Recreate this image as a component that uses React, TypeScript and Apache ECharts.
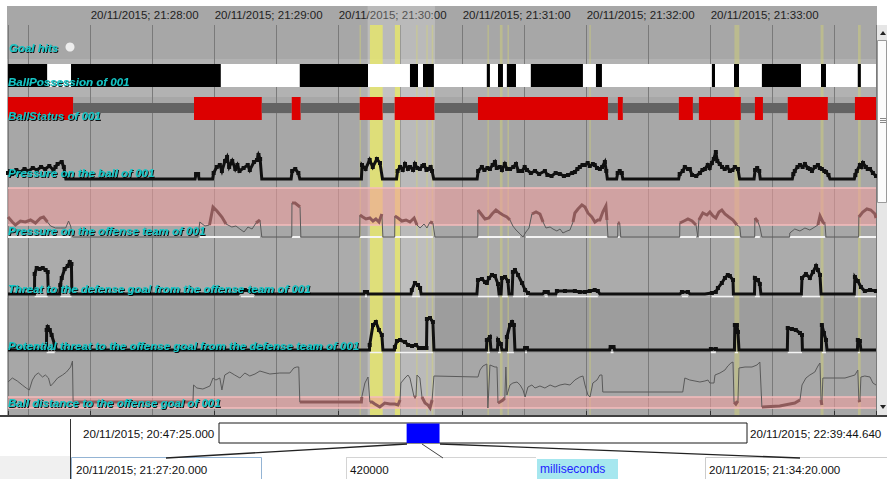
import React, { useEffect, useRef } from "react";
import * as echarts from "echarts";

// ---------- time frame (seconds after 20/11/2015 21:27:00) ----------
const AXIS_MIN = 20; // 21:27:20
const AXIS_MAX = 440; // 21:34:20
const tickSeconds = [60, 120, 180, 240, 300, 360];
const tickLabels = [
  "20/11/2015; 21:28:00",
  "20/11/2015; 21:29:00",
  "20/11/2015; 21:30:00",
  "20/11/2015; 21:31:00",
  "20/11/2015; 21:32:00",
  "20/11/2015; 21:33:00",
];

const rowLabels = [
  "Goal hits",
  "BallPossession of 001",
  "BallStatus of 001",
  "Pressure on the ball of 001",
  "Pressure on the offense team of 001",
  "Threat to the defense goal from the offense team of 001",
  "Potential threat to the offense goal from the defense team of 001",
  "Ball distance to the offense goal of 001",
];

// overview (seconds of day)
const overviewStartSec = 74845; // 20:47:25.000
const overviewEndSec = 81584.64; // 22:39:44.640
const windowSec = [77240, 77660]; // 21:27:20 -> 21:34:20
const overviewStartText = "20/11/2015; 20:47:25.000";
const overviewEndText = "20/11/2015; 22:39:44.640";
const windowStartText = "20/11/2015; 21:27:20.000";
const windowLengthText = "420000";
const windowUnitText = "milliseconds";
const windowEndText = "20/11/2015; 21:34:20.000";

// ---------- events ----------
const goalHits = [50];

const lightMarks = [[194, 226.6]];
const strongMarks = [
  [195.1, 201.3],
  [207.2, 209.7],
];
const faintMarks = [
  [190.1, 190.8],
  [217.5, 218.2],
  [222.4, 223.1],
  [225.0, 225.8],
  [252.0, 252.7],
  [258.0, 259.3],
  [261.7, 262.4],
  [301.3, 302.0],
  [371.5, 373.9],
  [413.2, 414.6],
  [431.3, 432.6],
];

// [start, end, 1 = 001 in possession (black), 0 = other (white)]
const possession = [
  [20, 39, 1], [39, 50.5, 0], [50.5, 123, 1], [123, 161.2, 0], [161.2, 194.2, 1],
  [194.2, 214.5, 0], [214.5, 218.4, 1], [218.4, 220.8, 0], [220.8, 226.1, 1],
  [226.1, 251.7, 0], [251.7, 253.2, 1], [253.2, 257.1, 0], [257.1, 259.5, 1],
  [259.5, 261.4, 0], [261.4, 265.8, 1], [265.8, 273, 0], [273, 298.2, 1],
  [298.2, 304.5, 0], [304.5, 307.4, 1], [307.4, 360.6, 0], [360.6, 362.1, 1],
  [362.1, 371.3, 0], [371.3, 373.7, 1], [373.7, 384.8, 0], [384.8, 403.7, 1],
  [403.7, 413.4, 0], [413.4, 415.8, 1], [415.8, 431.2, 0], [431.2, 432.7, 1],
  [432.7, 440, 0],
];

// [start, end, 1 = in play (red), 0 = stopped (grey)]
const ballStatus = [
  [20, 51.5, 1], [51.5, 110, 0], [110, 142.8, 1], [142.8, 157.3, 0], [157.3, 161.6, 1],
  [161.6, 190.2, 0], [190.2, 201.3, 1], [201.3, 207.1, 0], [207.1, 226.4, 1],
  [226.4, 247.4, 0], [247.4, 310.3, 1], [310.3, 315.1, 0], [315.1, 317.5, 1],
  [317.5, 344.6, 0], [344.6, 351.4, 1], [351.4, 354.3, 0], [354.3, 374.6, 1],
  [374.6, 381.4, 0], [381.4, 385.3, 1], [385.3, 397.3, 0], [397.3, 416.7, 1],
  [416.7, 429.8, 0], [429.8, 440, 1],
];

// ---------- measures [second, value] ----------
const pressureBall = [
  [20, 6], [21, 8], [22, 5], [24, 9], [26, 7], [28, 10], [30, 8], [32, 11], [34, 9], [36, 12],
  [38, 10], [40, 13], [42, 9], [43, 12], [44, 15], [46, 17], [47, 12], [48, 0],
  [110.5, 0], [111, 5], [112, 5], [112.5, 0],
  [119, 0], [119.5, 6], [121, 12], [122.5, 14], [123.5, 8], [125, 18], [126, 22], [127, 12],
  [128.5, 18], [130, 10], [131, 14], [132, 8], [134, 11], [136, 14], [137, 9], [139, 17],
  [140.5, 19], [141.2, 24], [142, 20], [142.8, 0],
  [157, 0], [157.5, 8], [159, 10], [160.5, 6], [161.2, 0],
  [191, 0], [191.3, 14], [193, 10], [195, 19], [196.5, 12], [198.5, 20], [200, 16], [201.2, 0],
  [208, 0], [208.5, 8], [209.7, 12], [211, 9], [212.1, 15], [213.5, 10], [214.5, 12], [216, 9],
  [216.9, 15], [218, 11], [219.3, 10], [220.5, 13], [221.3, 14], [222.5, 9], [223.2, 10],
  [224.5, 12], [225.2, 8], [226, 0],
  [247, 0], [247.5, 8], [249.3, 12], [250.5, 9], [252, 11], [253.2, 10], [254.5, 14], [255.6, 17],
  [256.5, 11], [258, 12], [259, 9], [260.4, 15], [261.5, 10], [262.9, 10], [264.5, 12],
  [265.8, 15], [267, 8], [268.7, 8], [270, 12], [271.1, 9], [273, 6], [275, 8], [277, 5],
  [279.8, 8], [281, 4], [283, 3], [285, 6], [287, 5], [289, 3], [291, 4], [293, 6], [294.3, 7],
  [295.5, 10], [296.7, 12], [298, 14], [299.1, 14], [300.5, 16], [301.5, 13], [303, 15],
  [303.9, 14], [305, 11], [306.4, 10], [307.5, 12], [308.8, 17], [309.5, 8], [310, 0],
  [314.5, 0], [315, 6], [316, 8], [317, 6], [317.5, 0],
  [344.5, 0], [345, 5], [346.5, 8], [347.5, 12], [349, 10], [349.9, 10], [351, 4], [353, 3],
  [354.8, 6], [356, 9], [357.2, 10], [358.6, 14], [359.5, 11], [360.6, 16], [361.5, 20],
  [362.5, 27], [363.2, 18], [364.4, 15], [365.5, 12], [366.8, 10], [368, 12], [369.3, 8],
  [370.5, 9], [371.7, 12], [373.2, 10], [374, 0],
  [381, 0], [381.5, 9], [382.5, 11], [383.5, 8], [384, 0],
  [399.5, 0], [400, 5], [400.7, 8], [402, 12], [403.2, 14], [404.5, 12], [405.6, 15], [407, 11],
  [408, 10], [409, 8], [410.4, 12], [411.9, 14], [412.8, 11], [413.8, 10], [415, 8], [415.8, 7],
  [417, 4], [417.7, 0],
  [429.5, 0], [430, 4], [430.7, 8], [432.2, 14], [433, 12], [433.7, 16], [435.1, 12], [436, 10],
  [437.1, 10], [438.5, 6], [440, 3],
];

const pressureOffense = [
  [20, 20], [22.1, 15], [23.6, 12], [26, 16], [28.4, 15], [30.9, 17], [33.3, 14], [35.7, 19],
  [37.2, 20], [39.1, 15], [40.6, 11], [43, 9], [45.4, 9], [47.9, 9], [49.3, 16], [50.3, 11],
  [51.3, 0],
  [111.9, 0], [112.8, 15], [115.3, 11], [117.5, 12], [119.2, 30], [121.1, 26], [123.5, 20],
  [125.5, 13], [128.3, 10], [130.3, 11], [132.2, 8], [134.2, 5], [136.1, 10], [138.1, 8],
  [140, 14], [141.9, 17], [142.8, 0],
  [157.3, 0], [157.4, 34], [158.9, 34], [161.3, 30], [161.7, 0],
  [190.2, 0], [190.3, 22], [191.7, 20], [193.2, 18], [195.1, 19], [196.6, 16], [198, 18],
  [199.5, 15], [200.9, 23], [201.4, 0],
  [207.1, 0], [207.2, 21], [208.7, 19], [210.6, 16], [212.6, 17], [214.5, 15], [216.5, 19],
  [217.9, 12], [219.4, 9], [221.3, 13], [222.7, 9], [224.2, 15], [225.6, 14], [226.6, 0],
  [247.3, 0], [247.4, 27], [249.3, 22], [250.8, 18], [252.7, 19], [254.2, 23], [256.1, 27],
  [258, 24], [259.5, 22], [261.4, 20], [262.9, 17], [264.3, 11], [265.8, 7], [267.8, 3],
  [269.2, 0], [270.6, 5], [272.1, 9], [273.5, 23], [275.5, 25], [277.4, 23], [278.9, 15],
  [280.3, 9], [282.3, 10], [283.7, 8], [285.6, 6], [287.1, 8], [288.5, 4], [290.5, 6],
  [291.9, 7], [293.4, 15], [294.3, 24], [295.8, 28], [297.7, 32], [299.2, 30], [300.6, 24],
  [302.5, 20], [304, 15], [305.4, 17], [306.4, 17], [307.8, 25], [309.3, 31], [309.8, 17],
  [310.3, 0],
  [315, 0], [315.1, 14], [316, 14], [316.5, 0],
  [345, 0], [345.1, 14], [347.1, 16], [349, 18], [351, 16], [352.9, 12], [353.8, 0], [354.3, 17],
  [356.2, 24], [358.2, 22], [359.6, 25], [361.1, 21], [362.5, 19], [364, 25], [365.4, 27],
  [366.9, 23], [368.8, 20], [370.8, 17], [372.7, 12], [374.1, 10], [374.6, 0],
  [381.3, 0], [381.4, 19], [382.9, 15], [383.8, 10], [384.8, 0],
  [398.2, 0], [398.3, 4], [400.7, 8], [403.2, 6], [405.6, 9], [408, 7], [410.4, 10], [411.9, 12],
  [412.9, 21], [414.3, 15], [415.3, 13], [415.8, 0],
  [431.6, 0], [431.7, 20], [433.6, 25], [435.6, 28], [437.5, 27], [439.5, 23], [440, 19],
];
const offenseBand = [12, 49];

const threatDefense = [
  [20, 0], [32.8, 0], [32.9, 20], [33.9, 26], [35.3, 25], [36.8, 26], [38.2, 24], [39.2, 22],
  [39.5, 0], [45, 0], [45.3, 9], [46, 16], [47.4, 25], [48.9, 28], [49.9, 32], [50.7, 30],
  [50.9, 0],
  [131.3, 0], [132.7, 3], [134.6, 4], [137, 3], [139, 2], [139.9, 0],
  [192.2, 0], [192.7, 2], [193.7, 2], [194.2, 0],
  [215, 0], [215.4, 4], [216.9, 11], [218.4, 9], [219.4, 6], [219.9, 0],
  [246.9, 0], [247.4, 14], [249.3, 15], [250.8, 12], [251.7, 11], [252.7, 16], [254.2, 19],
  [255.6, 18], [257.1, 10], [257.6, 0], [258.6, 0], [259, 16], [260.5, 17], [261.9, 13],
  [262.4, 0], [263.9, 0], [264.3, 22], [265.3, 24], [266.8, 19], [268.7, 11], [270.2, 4],
  [271.6, 1], [272.6, 0],
  [278.7, 0], [279.7, 2], [281.2, 2], [281.7, 0],
  [285.1, 0], [285.6, 3], [289.5, 3], [294.3, 3], [296.7, 2], [299.1, 2], [301.5, 3], [303.9, 4],
  [305.4, 3], [306.4, 0],
  [345.1, 0], [346.1, 2], [349, 2], [350, 0],
  [357.2, 0], [360.6, 1], [362.5, 2], [363.5, 6], [365.4, 11], [366.9, 16], [368.3, 19],
  [369.3, 18], [370.8, 14], [371, 0],
  [381.2, 0], [381.4, 16], [382.9, 14], [383.8, 10], [384.3, 0],
  [403.9, 0], [404.2, 16], [406.1, 20], [408, 16], [409.5, 22], [411, 28], [411.9, 24],
  [412.9, 19], [413.4, 0],
  [429.5, 0], [429.8, 17], [431.2, 13], [432.7, 7], [434.6, 3], [437.1, 4], [440, 3],
];

const potentialThreat = [
  [20, 0], [38.6, 0], [38.7, 20], [39.2, 23], [40.2, 20], [41.1, 15], [42.6, 5], [43.6, 0],
  [194.9, 0], [195, 5], [196.6, 25], [198, 28], [199.5, 20], [200.9, 15], [201.4, 0],
  [207, 0], [207.2, 3], [208.2, 9], [209.7, 10], [212.1, 8], [213.6, 5], [215.5, 4], [217.4, 5],
  [218.9, 2], [220.8, 2], [222.5, 2], [222.7, 31], [224.2, 32], [225.6, 28], [226.1, 0],
  [251.5, 0], [251.7, 10], [253.2, 13], [253.7, 0], [256.8, 0], [257.1, 10], [258.5, 6],
  [259, 0], [261.2, 0], [261.4, 13], [262.9, 25], [263.9, 28], [264.8, 25], [265.3, 0],
  [269.7, 0], [270.2, 2], [271.1, 2], [271.6, 0],
  [311.1, 0], [311.6, 3], [313, 3], [313.5, 0],
  [359.6, 0], [360.1, 1], [362.5, 1], [363, 0],
  [371.5, 0], [371.7, 25], [372.7, 25], [373.2, 18], [373.7, 0],
  [397.1, 0], [397.3, 22], [399.3, 21], [401.2, 20], [403.2, 17], [404.2, 15], [404.4, 0],
  [413.6, 0], [413.8, 25], [414.8, 17], [415.8, 10], [416.3, 0],
  [431, 0], [431.2, 10], [432.2, 9], [432.7, 0], [440, 0],
];

const ballDistance = [
  [20, 26], [22.1, 30], [24.5, 27], [26.9, 23], [28.8, 20], [30.3, 18], [31.8, 28], [33.3, 33],
  [34.7, 35], [36.7, 31], [38.1, 33], [39.6, 30], [40.6, 22], [42, 25], [44, 30], [46.4, 33],
  [48.3, 36], [50.3, 41], [51.2, 47], [51.5, 6], [109.5, 6], [109.8, 23], [111.4, 20],
  [114.3, 19], [117.7, 22], [119.2, 30], [120.6, 28], [122.5, 30], [123.5, 18], [124.9, 33],
  [127.3, 36], [129.7, 33], [132.2, 30], [134.6, 35], [137, 32], [139.5, 34], [141.9, 37],
  [146.7, 34], [151.5, 35], [156.4, 35], [158.3, 40], [159.7, 41], [160.7, 41], [161.2, 6],
  [191, 6], [191.2, 11], [192.7, 25], [194.2, 31], [195.1, 6], [196.1, 6], [197.5, 4],
  [199.9, 1], [202.3, 5], [204.8, 4], [207.2, 4], [208.7, 3], [209.7, 8], [210.1, 25],
  [212.1, 30], [213.5, 33], [214.5, 30], [216.5, 11], [217.4, 11], [217.9, 33], [219.3, 30],
  [220.3, 11], [221.8, 5], [223.2, 3], [224.2, 0], [225.2, 8], [226.1, 32], [247.4, 31],
  [248.4, 38], [249.8, 42], [251.7, 44], [252.2, 0], [253.2, 43], [255.6, 41], [256.6, 41],
  [257.1, 5], [258, 6], [259.5, 8], [260.4, 10], [260.9, 41], [261.4, 13], [262.9, 23],
  [264.3, 25], [266.3, 26], [267.8, 23], [269.2, 18], [270.2, 11], [271.6, 21], [273.5, 23],
  [275, 20], [277.4, 22], [279.8, 20], [282.3, 23], [284.7, 21], [287.1, 23], [289.5, 24],
  [291.9, 23], [294.3, 28], [296.7, 31], [298.2, 32], [299.2, 23], [300.6, 13], [301.6, 11],
  [303, 25], [305, 28], [306.4, 33], [307.4, 33], [307.8, 16], [346.5, 16], [347.5, 30],
  [349.9, 28], [352.4, 27], [354.8, 26], [357.2, 27], [358.7, 28], [359.6, 25], [361.6, 25],
  [362.1, 33], [364.5, 35], [366.9, 38], [368.3, 42], [369.8, 45], [370.8, 46], [371.3, 6],
  [372.2, 4], [373.2, 7], [373.7, 40], [376.6, 41], [380, 41], [382.4, 43], [383.8, 46],
  [384.8, 1], [393.4, 2], [398.3, 4], [400.7, 5], [403.2, 8], [404.2, 23], [406.1, 30],
  [408, 33], [410.4, 36], [411.9, 42], [412.9, 45], [413.4, 8], [413.8, 3], [414.3, 30],
  [420.1, 30], [425, 30], [429.8, 33], [431.2, 38], [431.7, 8], [432.2, 6], [432.7, 31],
  [434.6, 32], [437.1, 31], [438.5, 25], [440, 23],
];
const distanceBand = [0, 11];

// ---------- layout ----------
const LEFT = 8;
const RIGHT = 11;
const LABEL_FONT = "bold italic 11.5px Arial, 'Liberation Sans', sans-serif";
const rowLabelY = [48, 82, 116, 173, 231, 289, 346, 403];

function buildOption(): any {
  const g = (top: number, height: number) => ({ left: LEFT, right: RIGHT, top, height });
  const grids: any[] = [
    g(25, 390), // 0 body (split lines, yellow marks)
    g(6, 409), // 1 light mark incl. header
    g(37, 20), // 2 goal hits
    g(64, 23), // 3 possession
    g(97, 23), // 4 ball status
    g(140, 41), // 5 pressure on ball
    g(180, 60), // 6 pressure on offense
    g(240, 58), // 7 threat
    g(300, 54), // 8 potential threat
    g(355, 53), // 9 ball distance
    {
      left: 219, width: 528, top: 423, height: 20, show: true,
      backgroundColor: "#ffffff", borderColor: "#1a1a1a", borderWidth: 1,
    }, // 10 overview
  ];
  const yRanges = [[0, 1], [0, 1], [0, 1], [0, 1], [0, 1], [-2, 39], [-3, 57], [-4, 54], [-4, 50], [0, 53], [0, 1]];

  const hiddenX = (gridIndex: number, min = AXIS_MIN, max = AXIS_MAX) => ({
    type: "value", gridIndex, min, max, show: false,
  });
  const xAxis: any[] = [
    {
      type: "value", gridIndex: 0, position: "top", min: AXIS_MIN, max: AXIS_MAX,
      minInterval: 60, maxInterval: 60,
      axisLine: { show: true, lineStyle: { color: "#8a8a8a", width: 1 } },
      axisTick: { show: true, length: 4, lineStyle: { color: "#333" } },
      axisLabel: {
        show: true, align: "left", margin: 4, fontSize: 11.5, color: "#1e1e1e",
        fontFamily: "Arial, 'Liberation Sans', sans-serif",
        formatter: (v: number) => {
          const i = tickSeconds.indexOf(Math.round(v));
          return i >= 0 ? tickLabels[i] : "";
        },
      },
      splitLine: { show: false },
    },
    {
      type: "value", gridIndex: 0, position: "bottom", min: AXIS_MIN, max: AXIS_MAX,
      minInterval: 30, maxInterval: 30,
      axisLine: { show: false }, axisTick: { show: false }, axisLabel: { show: false },
      splitLine: { show: true, lineStyle: { color: "#7a7a7a", width: 1 } },
    },
  ];
  for (let i = 1; i <= 9; i++) xAxis.push(hiddenX(i));
  xAxis.push(hiddenX(10, overviewStartSec, overviewEndSec));
  const xi = (gridIndex: number) => (gridIndex === 0 ? 1 : gridIndex + 1);

  const yAxis = yRanges.map((r, i) => ({ type: "value", gridIndex: i, min: r[0], max: r[1], show: false }));

  const vBand = (gridIndex: number, data: number[][], fill: string, z = 1) => ({
    type: "custom", xAxisIndex: xi(gridIndex), yAxisIndex: gridIndex, data, encode: { x: [0, 1] },
    silent: true, z, clip: false,
    renderItem: (_p: any, api: any) => {
      const a = api.coord([api.value(0), 1]);
      const b = api.coord([api.value(1), 0]);
      return {
        type: "rect",
        shape: { x: a[0], y: a[1], width: Math.max(b[0] - a[0], 1), height: b[1] - a[1] },
        style: { fill },
      };
    },
  });

  const hBand = (gridIndex: number, range: number[]) => ({
    type: "custom", xAxisIndex: xi(gridIndex), yAxisIndex: gridIndex, data: [range], encode: { y: [0, 1] },
    silent: true, z: 2, clip: false,
    renderItem: (_p: any, api: any) => {
      const a = api.coord([AXIS_MIN, api.value(1)]);
      const b = api.coord([AXIS_MAX, api.value(0)]);
      return {
        type: "group",
        children: [
          { type: "rect", shape: { x: a[0], y: a[1], width: b[0] - a[0], height: b[1] - a[1] }, style: { fill: "rgba(242,158,158,0.55)" } },
          { type: "line", shape: { x1: a[0], y1: a[1], x2: b[0], y2: a[1] }, style: { stroke: "#f5bcbc", lineWidth: 1.5 } },
          { type: "line", shape: { x1: a[0], y1: b[1], x2: b[0], y2: b[1] }, style: { stroke: "#f5bcbc", lineWidth: 1.5 } },
        ],
      };
    },
  });

  const segSeries = (gridIndex: number, data: number[][], kind: "possession" | "status") => ({
    type: "custom", xAxisIndex: xi(gridIndex), yAxisIndex: gridIndex, data, encode: { x: [0, 1] },
    silent: true, z: 3, clip: false,
    renderItem: (_p: any, api: any) => {
      const s = api.value(0);
      const e = api.value(1);
      const st = api.value(2);
      let top = 1, bottom = 0, fill;
      if (kind === "possession") {
        fill = st ? "#000000" : "#ffffff";
      } else if (st) {
        fill = "#dc0000";
      } else {
        top = 0.74; bottom = 0.3; fill = "#636363";
      }
      const a = api.coord([s, top]);
      const b = api.coord([e, bottom]);
      return { type: "rect", shape: { x: a[0], y: a[1], width: Math.max(b[0] - a[0], 1), height: b[1] - a[1] }, style: { fill } };
    },
  });

  const line = (gridIndex: number, data: any[], color: string, width: number, z = 4, symbols = false) => ({
    type: "line", xAxisIndex: xi(gridIndex), yAxisIndex: gridIndex, data, z, silent: true, clip: false,
    lineStyle: { color, width, join: "miter" },
    itemStyle: { color },
    symbol: symbols ? "rect" : "none",
    symbolSize: symbols ? (v: number[]) => (v[1] > 0 ? 4 : 0) : 0,
    showAllSymbol: true,
    connectNulls: false,
  });

  const above = (data: number[][], th: number) => data.map(([s, v]) => [s, v >= th ? v : null]);
  const below = (data: number[][], th: number) => data.map(([s, v]) => [s, v <= th ? v : null]);
  const strip = (data: number[][], level: number) => data.map(([s, v]) => [s, v > 0 ? level : null]);

  const series: any[] = [
    vBand(1, lightMarks, "rgba(255,255,255,0.22)", 1),
    vBand(0, strongMarks, "rgba(236,236,96,0.72)", 1),
    vBand(0, faintMarks, "rgba(214,214,110,0.42)", 1),
    {
      type: "scatter", xAxisIndex: xi(2), yAxisIndex: 2, data: goalHits.map((t) => [t, 0.5]),
      symbolSize: 9, itemStyle: { color: "#ffffff" }, silent: true, z: 4,
    },
    segSeries(3, possession, "possession"),
    segSeries(4, ballStatus, "status"),
    line(5, pressureBall, "#101010", 3, 4, true),
    hBand(6, offenseBand),
    line(6, strip(pressureOffense, 0), "#f4f4f4", 2, 3),
    line(6, pressureOffense, "#5a5a5a", 1, 4),
    line(6, above(pressureOffense, offenseBand[0]), "#8e5a5a", 3, 5),
    line(7, strip(threatDefense, -2.5), "#f4f4f4", 1.5, 3),
    line(7, threatDefense, "#101010", 3, 4, true),
    line(8, strip(potentialThreat, -2.5), "#f4f4f4", 1.5, 3),
    line(8, potentialThreat, "#101010", 3, 4, true),
    hBand(9, distanceBand),
    line(9, ballDistance, "#5a5a5a", 1, 4),
    line(9, below(ballDistance, distanceBand[1]), "#8e5a5a", 3, 5),
    {
      type: "custom", xAxisIndex: xi(10), yAxisIndex: 10, data: [windowSec], encode: { x: [0, 1] },
      silent: true, z: 4,
      renderItem: (_p: any, api: any) => {
        const a = api.coord([api.value(0), 1]);
        const b = api.coord([api.value(1), 0]);
        return { type: "rect", shape: { x: a[0], y: a[1] + 0.5, width: b[0] - a[0], height: b[1] - a[1] - 0.5 }, style: { fill: "#0000ff" } };
      },
    },
  ];

  const txt = (text: string, x: number, y: number, font: string, fill: string, extra: any = {}) => ({
    type: "text", x, y, z: 100, silent: true,
    style: { text, font, fill, verticalAlign: "middle", align: "left", ...extra },
  });
  const rect = (x: number, y: number, w: number, h: number, style: any, z = -10) => ({
    type: "rect", z, silent: true, shape: { x, y, width: w, height: h }, style,
  });
  const seg = (x1: number, y1: number, x2: number, y2: number, stroke: string, lineWidth = 1, z = 50) => ({
    type: "line", z, silent: true, shape: { x1, y1, x2, y2 }, style: { stroke, lineWidth },
  });
  const UI_FONT = "11.6px Arial, 'Liberation Sans', sans-serif";

  const graphic: any[] = [
    // panel background and row shading
    rect(7, 6, 870, 409, { fill: "#a7a7a7" }, -20),
    rect(7, 59, 870, 5, { fill: "#b2b2b2" }, -19),
    rect(7, 87, 870, 10, { fill: "#b2b2b2" }, -19),
    rect(7, 238, 870, 60, { fill: "#ababab" }, -19),
    rect(7, 298, 870, 55, { fill: "#9d9d9d" }, -19),
    // bottom separator
    rect(0, 415, 887, 2, { fill: "#404040" }, 10),
    // scrollbar
    rect(877, 25, 10, 390, { fill: "#e6e6e6" }, 10),
    rect(877.5, 40.5, 9, 162, { fill: "#fbfbfb", stroke: "#9a9a9a", lineWidth: 1 }, 11),
    seg(880, 118.5, 886, 118.5, "#888", 1, 12),
    seg(880, 120.5, 886, 120.5, "#888", 1, 12),
    seg(880, 122.5, 886, 122.5, "#888", 1, 12),
    { type: "polygon", z: 12, silent: true, shape: { points: [[880, 35], [886, 35], [883, 31]] }, style: { fill: "#222" } },
    { type: "polygon", z: 12, silent: true, shape: { points: [[880, 405], [886, 405], [883, 409]] }, style: { fill: "#222" } },
    // bottom controls
    rect(0, 456, 70, 23, { fill: "#f0f0f0" }, 10),
    seg(70.5, 419, 70.5, 479, "#333", 1),
    seg(407, 444, 166, 458, "#222", 1.3),
    seg(440, 444, 800, 458, "#222", 1.3),
    seg(422, 444, 443, 458, "#444", 1),
    rect(71.5, 457.5, 190, 22, { fill: "#ffffff", stroke: "#94b4d4", lineWidth: 1 }, 20),
    seg(346.5, 457, 346.5, 479, "#d4d4d4", 1, 20),
    seg(346.5, 457.5, 536, 457.5, "#d4d4d4", 1, 20),
    rect(537, 459, 81, 20, { fill: "#a6e7ef" }, 20),
    rect(705.5, 457.5, 182, 22, { fill: "#ffffff", stroke: "#cccccc", lineWidth: 1 }, 20),
    txt(overviewStartText, 83, 433, UI_FONT, "#111"),
    txt(overviewEndText, 750, 433, UI_FONT, "#111"),
    txt(windowStartText, 76, 469, UI_FONT, "#111"),
    txt(windowLengthText, 350, 469, UI_FONT, "#111"),
    txt(windowUnitText, 540, 469, "12px Arial, 'Liberation Sans', sans-serif", "#2222ff"),
    txt(windowEndText, 709, 469, UI_FONT, "#111"),
  ];
  rowLabels.forEach((label, i) => {
    graphic.push(
      txt(label, i === 0 ? 9 : 8, rowLabelY[i], LABEL_FONT, "#14c4c4", {
        textShadowColor: "rgba(0,0,0,0.9)", textShadowOffsetX: 1, textShadowOffsetY: 1, textShadowBlur: 1,
      })
    );
  });

  return {
    animation: false,
    backgroundColor: "#ffffff",
    grid: grids,
    xAxis,
    yAxis,
    series,
    graphic,
  };
}

export default function App() {
  const ref = useRef<HTMLDivElement>(null);
  useEffect(() => {
    if (!ref.current) return;
    const chart = echarts.init(ref.current, null, { renderer: "svg" });
    chart.setOption(buildOption());
    return () => chart.dispose();
  }, []);
  return (
    <div
      ref={ref}
      style={{ position: "absolute", left: 0, top: 0, width: 887, height: 479 }}
    />
  );
}
